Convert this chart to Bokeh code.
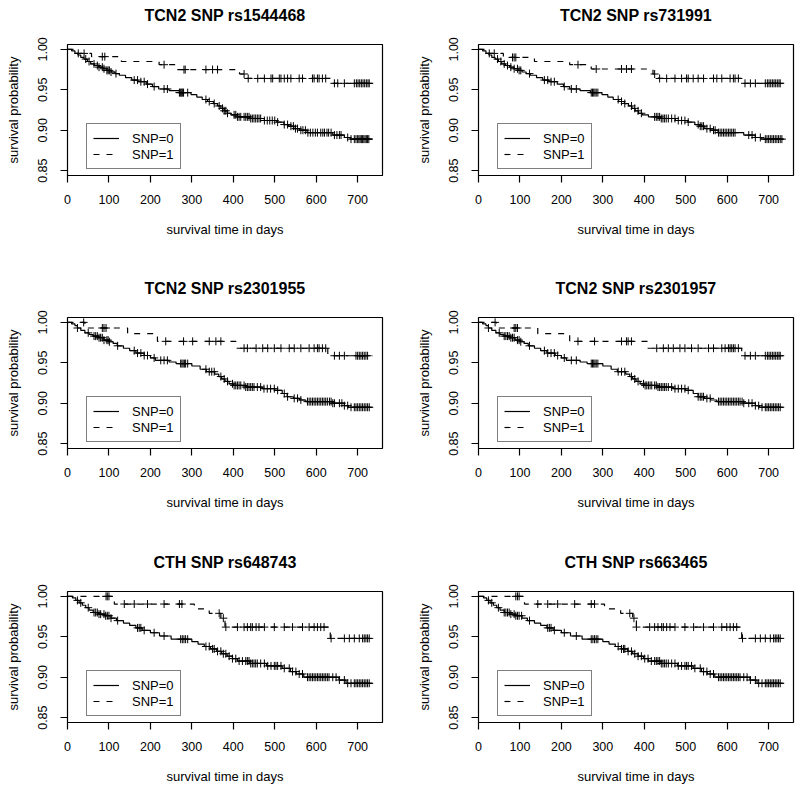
import numpy as np
from bokeh.plotting import figure
from bokeh.layouts import column, row
from bokeh.models import Range1d, FixedTicker, PrintfTickFormatter, Legend, LegendItem, Title
from bokeh.embed import file_html
from bokeh.resources import INLINE

FONT = "Liberation Sans"

# ---------------- data ----------------
titles = ["TCN2 SNP rs1544468", "TCN2 SNP rs731991",
          "TCN2 SNP rs2301955", "TCN2 SNP rs2301957",
          "CTH SNP rs648743", "CTH SNP rs663465"]
legend_labels = ["SNP=0", "SNP=1"]
x_ticks = [0, 100, 200, 300, 400, 500, 600, 700]
y_ticks = [0.85, 0.90, 0.95, 1.00]
end_day = 736

# panel 1
p1_snp0_t = [10, 18, 25, 32, 40, 48, 56, 65, 75, 85, 95, 105, 115, 125, 140, 155, 170, 190, 205, 220, 245, 270, 298, 312, 325, 338, 352, 362, 370, 378, 386, 395, 410, 440, 475, 505, 522, 533, 546, 560, 578, 640, 668, 682]
p1_snp0_s = [0.998, 0.995, 0.993, 0.990, 0.988, 0.985, 0.982, 0.980, 0.978, 0.976, 0.974, 0.972, 0.970, 0.968, 0.965, 0.962, 0.960, 0.957, 0.954, 0.951, 0.949, 0.9465, 0.944, 0.941, 0.938, 0.9355, 0.933, 0.930, 0.927, 0.924, 0.921, 0.919, 0.9165, 0.9145, 0.912, 0.910, 0.907, 0.905, 0.902, 0.900, 0.897, 0.894, 0.891, 0.889]
p1_snp0_c = [44, 52, 64, 72, 76, 84, 88, 95, 98, 101, 105, 117, 161, 169, 177, 185, 193, 209, 233, 241, 270, 272, 274, 276, 278, 280, 290, 334, 342, 354, 366, 374, 378, 382, 386, 402, 406, 410, 414, 418, 426, 430, 434, 438, 442, 446, 450, 454, 458, 462, 466, 475, 482, 488, 494, 500, 507, 523, 531, 539, 545, 550, 555, 563, 568, 574, 580, 586, 592, 598, 603, 611, 616, 620, 626, 630, 636, 644, 650, 656, 660, 676, 684, 692, 696, 700, 703, 706, 709, 712, 715, 718, 721, 724, 727]
p1_snp1_t = [20, 58, 130, 221, 262, 415, 432, 636]
p1_snp1_s = [0.995, 0.991, 0.985, 0.981, 0.975, 0.9695, 0.964, 0.958]
p1_snp1_c = [26, 40, 84, 90, 233, 281, 284, 334, 350, 362, 426, 436, 459, 475, 491, 495, 511, 515, 523, 531, 539, 559, 567, 591, 595, 603, 607, 615, 623, 644, 652, 668, 692, 697, 701, 705, 709, 713, 717, 721, 725, 728]

# panel 2
p2_snp0_t = [10, 18, 25, 32, 40, 48, 56, 65, 75, 85, 95, 105, 115, 125, 140, 155, 170, 190, 205, 220, 245, 270, 298, 312, 325, 338, 352, 362, 370, 378, 386, 395, 410, 440, 475, 505, 522, 533, 546, 560, 578, 640, 668, 682]
p2_snp0_s = [0.998, 0.995, 0.993, 0.990, 0.988, 0.985, 0.982, 0.980, 0.978, 0.976, 0.974, 0.972, 0.970, 0.968, 0.965, 0.962, 0.960, 0.957, 0.954, 0.951, 0.949, 0.9465, 0.944, 0.941, 0.938, 0.9355, 0.933, 0.930, 0.927, 0.924, 0.921, 0.919, 0.9165, 0.9145, 0.912, 0.910, 0.907, 0.905, 0.902, 0.900, 0.897, 0.894, 0.891, 0.889]
p2_snp0_c = [46, 54, 62, 70, 78, 86, 94, 98, 102, 123, 159, 167, 175, 183, 207, 224, 236, 272, 275, 278, 281, 284, 288, 337, 345, 353, 369, 377, 385, 393, 425, 429, 433, 437, 441, 445, 449, 453, 458, 466, 474, 482, 490, 498, 506, 530, 535, 539, 543, 551, 559, 567, 571, 579, 583, 587, 591, 595, 599, 603, 607, 611, 615, 619, 652, 660, 668, 680, 692, 696, 700, 704, 708, 712, 716, 720, 724, 728, 732]
p2_snp1_t = [20, 60, 135, 220, 272, 421, 434, 635]
p2_snp1_s = [0.995, 0.990, 0.985, 0.981, 0.9757, 0.9695, 0.964, 0.958]
p2_snp1_c = [26, 38, 82, 86, 90, 240, 284, 345, 357, 369, 425, 437, 454, 474, 490, 502, 506, 518, 530, 543, 567, 575, 587, 607, 615, 619, 627, 643, 656, 668, 692, 697, 701, 705, 709, 713, 717, 721, 725, 728]

# panel 3
p3_snp0_t = [10, 18, 24, 32, 42, 52, 62, 75, 88, 100, 110, 120, 135, 150, 165, 185, 200, 212, 245, 262, 300, 320, 335, 355, 365, 372, 380, 390, 400, 430, 470, 500, 518, 530, 545, 560, 575, 640, 668, 678]
p3_snp0_s = [0.998, 0.996, 0.993, 0.990, 0.987, 0.985, 0.983, 0.981, 0.978, 0.976, 0.974, 0.971, 0.968, 0.965, 0.962, 0.959, 0.956, 0.953, 0.951, 0.949, 0.946, 0.942, 0.939, 0.936, 0.933, 0.930, 0.927, 0.924, 0.922, 0.920, 0.918, 0.916, 0.912, 0.908, 0.906, 0.904, 0.902, 0.900, 0.897, 0.895]
p3_snp0_c = [24, 50, 64, 68, 72, 76, 80, 84, 88, 95, 98, 101, 121, 161, 169, 177, 185, 193, 209, 225, 233, 241, 273, 276, 279, 282, 285, 290, 334, 342, 348, 354, 370, 378, 386, 398, 402, 406, 410, 414, 418, 426, 430, 434, 438, 442, 446, 450, 458, 466, 474, 482, 490, 499, 507, 523, 531, 547, 555, 563, 579, 583, 587, 591, 595, 599, 603, 607, 611, 615, 619, 623, 627, 632, 636, 640, 644, 656, 662, 668, 676, 684, 692, 696, 700, 704, 708, 712, 716, 720, 724, 728]
p3_snp1_t = [42, 145, 217, 406, 628]
p3_snp1_s = [0.993, 0.986, 0.9765, 0.968, 0.9587]
p3_snp1_c = [39, 84, 88, 93, 237, 280, 302, 342, 358, 370, 426, 434, 455, 471, 483, 499, 515, 535, 547, 563, 583, 595, 603, 607, 615, 623, 644, 656, 668, 696, 700, 704, 708, 712, 716, 720, 724]

# panel 4
p4_snp0_t = [10, 18, 24, 32, 42, 52, 62, 75, 88, 100, 110, 120, 135, 150, 165, 185, 200, 212, 245, 262, 300, 320, 335, 355, 365, 372, 380, 390, 400, 430, 470, 500, 518, 530, 545, 560, 575, 640, 668, 678]
p4_snp0_s = [0.998, 0.996, 0.993, 0.990, 0.987, 0.985, 0.983, 0.981, 0.978, 0.976, 0.974, 0.971, 0.968, 0.965, 0.962, 0.959, 0.956, 0.953, 0.951, 0.949, 0.946, 0.942, 0.939, 0.936, 0.933, 0.930, 0.927, 0.924, 0.922, 0.920, 0.918, 0.916, 0.912, 0.908, 0.906, 0.904, 0.902, 0.900, 0.897, 0.895]
p4_snp0_c = [24, 50, 62, 66, 70, 74, 78, 82, 86, 94, 98, 102, 123, 159, 167, 175, 183, 191, 207, 224, 236, 272, 275, 278, 281, 284, 288, 337, 345, 353, 369, 377, 385, 398, 402, 406, 410, 414, 418, 425, 429, 433, 437, 441, 445, 449, 453, 458, 466, 474, 482, 490, 498, 506, 530, 535, 539, 543, 551, 559, 579, 583, 587, 591, 595, 599, 603, 607, 611, 615, 619, 623, 627, 631, 636, 640, 652, 660, 668, 676, 684, 692, 696, 700, 704, 708, 712, 716, 720, 724, 728]
p4_snp1_t = [43, 143, 220, 409, 635]
p4_snp1_s = [0.993, 0.986, 0.9765, 0.968, 0.9587]
p4_snp1_c = [40, 86, 90, 94, 240, 280, 345, 357, 361, 369, 430, 446, 458, 470, 486, 498, 514, 530, 555, 567, 587, 595, 603, 607, 611, 615, 619, 627, 643, 656, 668, 692, 697, 701, 705, 709, 713, 717, 721, 725, 728]

# panel 5
p5_snp0_t = [12, 20, 28, 36, 44, 52, 62, 75, 90, 105, 118, 135, 150, 165, 180, 200, 222, 250, 300, 315, 330, 345, 360, 372, 385, 398, 410, 440, 480, 518, 538, 552, 570, 655, 672]
p5_snp0_s = [0.998, 0.995, 0.992, 0.989, 0.986, 0.983, 0.980, 0.978, 0.976, 0.973, 0.970, 0.967, 0.964, 0.961, 0.958, 0.955, 0.951, 0.947, 0.944, 0.941, 0.938, 0.935, 0.932, 0.929, 0.926, 0.923, 0.920, 0.917, 0.914, 0.911, 0.907, 0.904, 0.900, 0.8965, 0.8925]
p5_snp0_c = [24, 32, 50, 64, 68, 72, 76, 80, 88, 92, 96, 100, 105, 121, 169, 173, 177, 185, 209, 233, 273, 277, 281, 285, 290, 334, 342, 350, 354, 362, 370, 376, 382, 390, 398, 406, 414, 422, 430, 434, 438, 442, 446, 450, 454, 458, 466, 475, 483, 491, 499, 503, 507, 515, 523, 535, 543, 551, 559, 567, 579, 583, 587, 591, 595, 599, 603, 607, 611, 615, 619, 623, 627, 631, 640, 648, 656, 668, 676, 684, 692, 696, 700, 704, 708, 712, 716, 720, 724, 728]
p5_snp1_t = [113, 306, 342, 370, 380, 634]
p5_snp1_s = [0.9905, 0.9845, 0.979, 0.973, 0.962, 0.948]
p5_snp1_c = [93, 96, 100, 137, 161, 193, 233, 270, 276, 366, 376, 382, 410, 426, 434, 442, 446, 455, 462, 475, 499, 523, 543, 567, 583, 595, 603, 611, 619, 636, 668, 680, 692, 704, 712, 716, 720, 724, 728]

# panel 6
p6_snp0_t = [12, 20, 28, 36, 44, 52, 62, 75, 90, 105, 118, 135, 150, 165, 180, 200, 222, 250, 300, 315, 330, 345, 360, 372, 385, 398, 410, 440, 480, 518, 538, 552, 570, 655, 672]
p6_snp0_s = [0.998, 0.995, 0.992, 0.989, 0.986, 0.983, 0.980, 0.978, 0.976, 0.973, 0.970, 0.967, 0.964, 0.961, 0.958, 0.955, 0.951, 0.947, 0.944, 0.941, 0.938, 0.935, 0.932, 0.929, 0.926, 0.923, 0.920, 0.917, 0.914, 0.911, 0.907, 0.904, 0.900, 0.8965, 0.8925]
p6_snp0_c = [24, 32, 48, 62, 66, 70, 74, 78, 86, 90, 94, 98, 104, 123, 167, 171, 175, 183, 207, 236, 272, 276, 280, 284, 288, 337, 345, 350, 353, 361, 369, 377, 385, 393, 401, 409, 417, 425, 429, 433, 437, 441, 445, 449, 453, 458, 466, 474, 482, 490, 498, 502, 506, 514, 522, 535, 543, 551, 559, 567, 579, 583, 587, 591, 595, 599, 603, 607, 611, 615, 619, 623, 627, 631, 640, 648, 656, 668, 676, 684, 692, 696, 700, 704, 708, 712, 716, 720, 724, 728]
p6_snp1_t = [111, 304, 343, 372, 381, 635]
p6_snp1_s = [0.9905, 0.9845, 0.979, 0.973, 0.962, 0.948]
p6_snp1_c = [90, 94, 98, 143, 167, 191, 232, 272, 280, 365, 375, 381, 413, 425, 433, 442, 446, 454, 462, 474, 498, 519, 543, 567, 587, 599, 607, 615, 623, 637, 668, 680, 692, 704, 712, 716, 720, 724, 728]

panel_data = [
    (p1_snp0_t, p1_snp0_s, p1_snp0_c, p1_snp1_t, p1_snp1_s, p1_snp1_c),
    (p2_snp0_t, p2_snp0_s, p2_snp0_c, p2_snp1_t, p2_snp1_s, p2_snp1_c),
    (p3_snp0_t, p3_snp0_s, p3_snp0_c, p3_snp1_t, p3_snp1_s, p3_snp1_c),
    (p4_snp0_t, p4_snp0_s, p4_snp0_c, p4_snp1_t, p4_snp1_s, p4_snp1_c),
    (p5_snp0_t, p5_snp0_s, p5_snp0_c, p5_snp1_t, p5_snp1_s, p5_snp1_c),
    (p6_snp0_t, p6_snp0_s, p6_snp0_c, p6_snp1_t, p6_snp1_s, p6_snp1_c),
]

# ---------------- layout ----------------
col_geom = [dict(width=400, ml=67, mr=18), dict(width=400, ml=78, mr=7)]
row_geom = [dict(height=273, mt=44, mb=98), dict(height=274, mt=44, mb=99),
            dict(height=245, mt=44, mb=70)]


def step_xy(t, s):
    xs = [0] + list(t) + [end_day]
    ys = [1.0] + list(s) + [s[-1]]
    return xs, ys


def surv_at(t, s, c):
    t = np.asarray(t, dtype=float)
    s = np.asarray(s, dtype=float)
    idx = np.searchsorted(t, np.asarray(c, dtype=float), side="right") - 1
    return np.where(idx < 0, 1.0, s[np.clip(idx, 0, None)])


def make_panel(i):
    cg = col_geom[i % 2]
    rg = row_geom[i // 2]
    t0, s0, c0, t1, s1, c1 = panel_data[i]
    p = figure(width=cg["width"], height=rg["height"],
               x_range=Range1d(0, 760), y_range=Range1d(0.844, 1.006),
               output_backend="svg", toolbar_location=None, title=titles[i],
               min_border_left=cg["ml"], min_border_right=cg["mr"],
               min_border_top=rg["mt"], min_border_bottom=rg["mb"])
    p.background_fill_color = "white"
    p.border_fill_color = "white"
    p.outline_line_color = "black"
    p.outline_line_width = 1.2
    p.outline_line_alpha = 1.0
    p.xgrid.visible = False
    p.ygrid.visible = False

    # thin spacer between the frame and the title (keeps the title higher up)
    p.add_layout(Title(text=" ", text_font_size="1px", standoff=18), "above")
    p.title.text_font = FONT
    p.title.text_font_size = "16px"
    p.title.text_font_style = "bold"
    p.title.text_color = "black"
    p.title.align = "center"
    p.title.standoff = 0

    for ax in (p.xaxis[0], p.yaxis[0]):
        ax.axis_line_color = None
        ax.major_tick_in = 0
        ax.major_tick_out = 7
        ax.major_tick_line_color = "black"
        ax.major_tick_line_width = 1.2
        ax.minor_tick_line_color = None
        ax.major_label_text_font = FONT
        ax.major_label_text_font_size = "12.5px"
        ax.major_label_text_color = "black"
        ax.axis_label_text_font = FONT
        ax.axis_label_text_font_size = "13px"
        ax.axis_label_text_font_style = "normal"
        ax.axis_label_text_color = "black"
    p.xaxis.ticker = FixedTicker(ticks=x_ticks)
    p.yaxis.ticker = FixedTicker(ticks=y_ticks)
    p.yaxis.formatter = PrintfTickFormatter(format="%.2f")
    p.yaxis.major_label_orientation = "vertical"
    p.xaxis.axis_label = "survival time in days"
    p.yaxis.axis_label = "survival probability"
    p.xaxis.major_label_standoff = 12
    p.yaxis.major_label_standoff = 13
    p.xaxis.axis_label_standoff = 15
    p.yaxis.axis_label_standoff = 15

    x0, y0 = step_xy(t0, s0)
    x1, y1 = step_xy(t1, s1)
    r0 = p.step(x0, y0, mode="after", line_color="black", line_width=1.2)
    r1 = p.step(x1, y1, mode="after", line_color="black", line_width=1.2,
                line_dash="6 7")
    p.scatter(c0, surv_at(t0, s0, c0), marker="cross", size=8,
              line_color="black", line_width=1)
    p.scatter(c1, surv_at(t1, s1, c1), marker="cross", size=8,
              line_color="black", line_width=1)

    legend = Legend(items=[LegendItem(label=legend_labels[0], renderers=[r0]),
                           LegendItem(label=legend_labels[1], renderers=[r1])],
                    location=(19, 6), margin=0, padding=6, spacing=0,
                    glyph_width=26, glyph_height=16, label_height=16,
                    label_standoff=13, label_text_font=FONT,
                    label_text_font_size="13px", label_text_color="black",
                    border_line_color="black", border_line_width=1.2,
                    background_fill_color="white", background_fill_alpha=1.0)
    p.add_layout(legend)
    return p


panels = [make_panel(i) for i in range(6)]
layout = column(row(panels[0], panels[1]), row(panels[2], panels[3]),
                row(panels[4], panels[5]))

open("out.html", "w").write(file_html(layout, INLINE))
